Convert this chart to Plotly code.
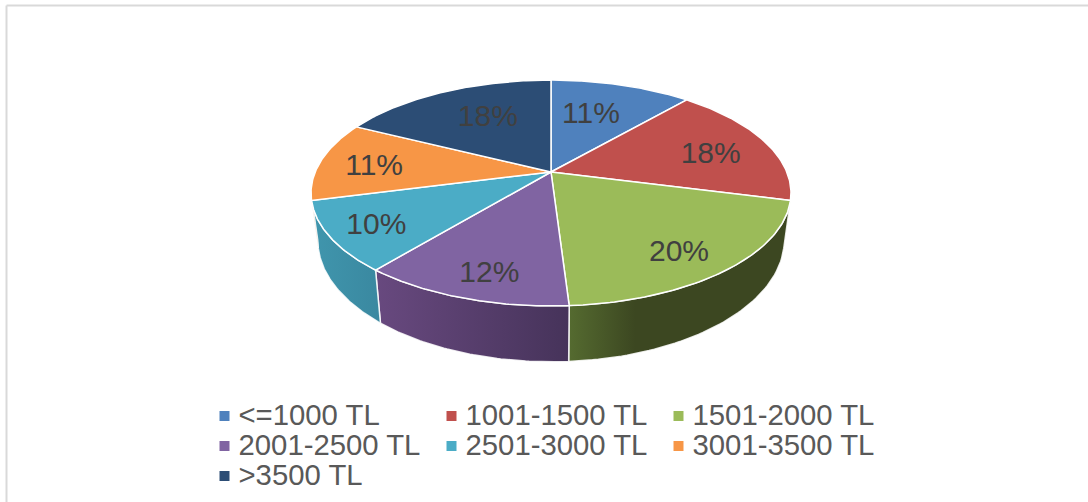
import numpy as np
import plotly.graph_objects as go

categories = ["<=1000 TL", "1001-1500 TL", "1501-2000 TL", "2001-2500 TL",
              "2501-3000 TL", "3001-3500 TL", ">3500 TL"]
percent_values = [11.4, 17.6, 20, 12, 10, 11.4, 17.6]
slice_colors = ["#4f81bd", "#c0504d", "#9bbb59", "#8064a2", "#4bacc6", "#f79646", "#2c4d75"]
wall_left_colors = ["#3f6690", "#8f3c3a", "#556b30", "#68497f", "#4096ad", "#b96f34", "#213a58"]
wall_right_colors = ["#3f6690", "#8f3c3a", "#3c4721", "#46335a", "#3a88a0", "#b96f34", "#213a58"]
wall_dark_from = [1, 1, 0.3, 1, 1, 1, 1]

# projection of the tilted disc on the page (pixels)
CX, CY = 551.0, 172.0
A, B, P = 235.8, 109.0, 0.186
DEPTH = 45.5
BOTTOM_SCALE = 0.972

# placement of the percentage labels inside their slices
label_radius = [0.63, 0.72, 0.80, 0.82, 0.81, 0.76, 0.64]
label_turn = [-3.1, 3.4, 2.9, -2.2, -0.5, -1.9, 4.1]
TEXT_DROP = 2.0


def top(theta, r=1.0):
    u, v = r * np.sin(theta), r * np.cos(theta)
    w = 1 + P * v
    return CX + A * u / w, CY - B * v / w


def bottom(theta):
    u, v = np.sin(theta), np.cos(theta)
    w = 1 + P * v
    return CX + BOTTOM_SCALE * A * u / w, CY - B * v / w + DEPTH / w


shares = np.array(percent_values, dtype=float) / sum(percent_values)
edges = np.concatenate([[0.0], np.cumsum(shares)]) * 2 * np.pi
fig = go.Figure()

# side walls: only the arc in front of the silhouette is visible
sil = np.arccos(-P)
vis_start, vis_end = sil, 2 * np.pi - sil
for i in range(len(categories)):
    a, b = max(edges[i], vis_start), min(edges[i + 1], vis_end)
    if b <= a:
        continue
    t = np.linspace(a, b, 60)
    x1, y1 = top(t)
    x2, y2 = bottom(t[::-1])
    scale = [[0, wall_left_colors[i]], [wall_dark_from[i], wall_right_colors[i]]]
    if wall_dark_from[i] < 1:
        scale.append([1, wall_right_colors[i]])
    fig.add_trace(go.Scatter(
        x=np.concatenate([x1, x2, x1[:1]]), y=np.concatenate([y1, y2, y1[:1]]),
        mode="lines", fill="toself", line=dict(color="rgba(255,255,255,0.85)", width=1.5),
        fillgradient=dict(type="horizontal", colorscale=scale),
        hoverinfo="skip", showlegend=False))

# top faces
for i, cat in enumerate(categories):
    t = np.linspace(edges[i], edges[i + 1], 80)
    x, y = top(t)
    fig.add_trace(go.Scatter(
        x=np.concatenate([[CX], x, [CX]]), y=np.concatenate([[CY], y, [CY]]),
        mode="lines", fill="toself", fillcolor=slice_colors[i],
        line=dict(color="#ffffff", width=1.5), name=cat,
        hoverinfo="skip", showlegend=False))

# percentage labels
mid = (edges[:-1] + edges[1:]) / 2 + np.radians(label_turn)
lx, ly = top(mid, np.array(label_radius))
fig.add_trace(go.Scatter(
    x=lx, y=ly + TEXT_DROP, mode="text", text=[f"{v:.0f}%" for v in percent_values],
    textposition="middle center",
    textfont=dict(family="Liberation Sans", size=30, color="#404040"),
    hoverinfo="skip", showlegend=False))

# legend block, three columns
COLS, X0, DX, Y0, DY, GAP = 3, 224.5, 227.0, 416.0, 30.0, 14.0
for i, cat in enumerate(categories):
    col, row = i % COLS, i // COLS
    fig.add_trace(go.Scatter(
        x=[X0 + col * DX], y=[Y0 + row * DY], mode="markers",
        marker=dict(symbol="square", size=10, color=slice_colors[i]),
        hoverinfo="skip", showlegend=False))
    fig.add_trace(go.Scatter(
        x=[X0 + col * DX + GAP], y=[Y0 + row * DY + TEXT_DROP], mode="text", text=[cat],
        textposition="middle right",
        textfont=dict(family="Liberation Sans", size=29.3, color="#595959"),
        hoverinfo="skip", showlegend=False))

fig.update_layout(
    width=1088, height=502, margin=dict(l=0, r=0, t=0, b=0),
    paper_bgcolor="#ffffff", plot_bgcolor="#ffffff", showlegend=False,
    xaxis=dict(range=[0, 1088], visible=False, fixedrange=True),
    yaxis=dict(range=[502, 0], visible=False, fixedrange=True),
    shapes=[
        dict(type="line", xref="paper", yref="paper", x0=6.5 / 1088, x1=1, y0=1 - 5.5 / 502, y1=1 - 5.5 / 502,
             line=dict(color="#d9d9d9", width=2)),
        dict(type="line", xref="paper", yref="paper", x0=6.5 / 1088, x1=6.5 / 1088, y0=0, y1=1 - 5.5 / 502,
             line=dict(color="#d9d9d9", width=2)),
    ],
)
fig.write_html("out.html", config=dict(displayModeBar=False),
               post_script="document.body.style.margin='0';document.body.style.overflow='hidden';")
